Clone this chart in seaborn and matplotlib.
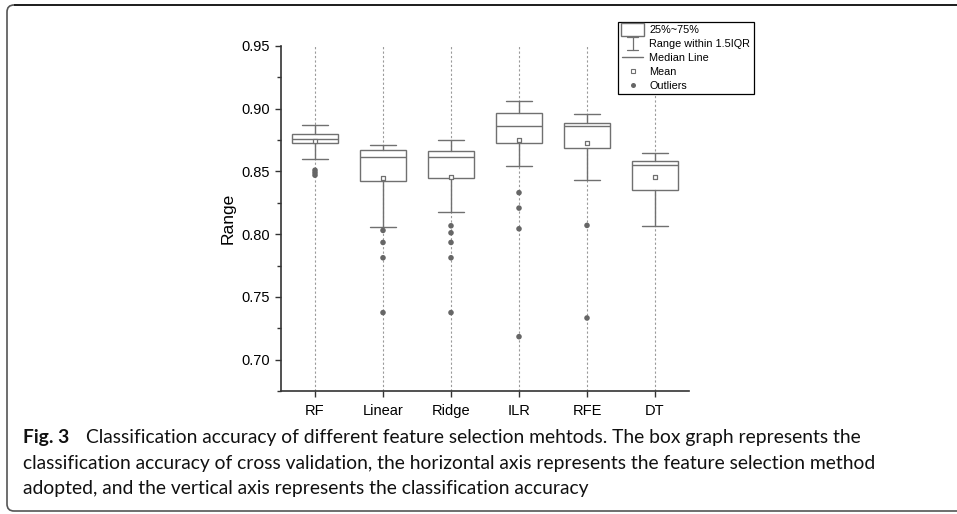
import numpy as np
import pandas as pd
import matplotlib
matplotlib.use("Agg")
import matplotlib.pyplot as plt
import seaborn as sns
from matplotlib.path import Path
from matplotlib.patches import PathPatch, Rectangle
from matplotlib.lines import Line2D
from matplotlib.legend_handler import HandlerBase
from matplotlib.transforms import IdentityTransform
from matplotlib.ticker import MultipleLocator, FormatStrFormatter

# ---------------- data ----------------
categories = ["RF", "Linear", "Ridge", "ILR", "RFE", "DT"]
whisker_high = [0.8869, 0.8714, 0.8751, 0.9058, 0.8959, 0.8651]
q3 = [0.8802, 0.8669, 0.8664, 0.8962, 0.8887, 0.8581]
median = [0.8757, 0.8613, 0.8613, 0.8866, 0.8861, 0.8552]
q1 = [0.8723, 0.8424, 0.8448, 0.8723, 0.8685, 0.8352]
whisker_low = [0.8603, 0.8060, 0.8174, 0.8544, 0.8435, 0.8067]
means = [0.8741, 0.8450, 0.8456, 0.8749, 0.8727, 0.8453]
outliers_rf = [0.851, 0.849, 0.847]
outliers_linear = [0.803, 0.7934, 0.7812, 0.7375]
outliers_ridge = [0.8067, 0.8011, 0.7934, 0.7812, 0.7375]
outliers_ilr = [0.8331, 0.8208, 0.8043, 0.7183]
outliers_rfe = [0.807, 0.7332]
outliers_dt = []
outliers = [outliers_rf, outliers_linear, outliers_ridge,
            outliers_ilr, outliers_rfe, outliers_dt]
legend_labels = ["25%~75%", "Range within 1.5IQR", "Median Line", "Mean", "Outliers"]
ylabel = "Range"
caption_bold = "Fig. 3"
caption_lines = [
    "Classification accuracy of different feature selection mehtods. The box graph represents the",
    "classification accuracy of cross validation, the horizontal axis represents the feature selection method",
    "adopted, and the vertical axis represents the classification accuracy",
]

# ---------------- style ----------------
sns.set_theme(style="ticks")
plt.rcParams['font.family'] = ['Liberation Sans', 'DejaVu Sans']
GRAY = "#707070"
DOT = "#666666"
SPINE = "#333333"

W, H = 957, 514
fig = plt.figure(figsize=(W / 100, H / 100), dpi=100)
fig.patch.set_facecolor("white")
ax = fig.add_axes([281 / W, 1 - 391 / H, (689 - 281) / W, (391 - 46) / H])
ax.set_facecolor("white")

positions = list(range(len(categories)))
stats = [dict(label=c, whislo=wl, q1=a, med=m, q3=b, whishi=wh, fliers=[])
         for c, wl, a, m, b, wh in zip(categories, whisker_low, q1, median, q3, whisker_high)]
ax.bxp(stats, positions=positions, widths=0.68, capwidths=0.37,
       showfliers=False, patch_artist=True, manage_ticks=False,
       boxprops=dict(facecolor="white", edgecolor=GRAY, linewidth=1.0),
       medianprops=dict(color=GRAY, linewidth=1.0),
       whiskerprops=dict(color=GRAY, linewidth=1.0),
       capprops=dict(color=GRAY, linewidth=1.0), zorder=3)

out_df = pd.DataFrame({
    "pos": [p for p, vals in zip(positions, outliers) for _ in vals],
    "value": [v for vals in outliers for v in vals],
})
sns.scatterplot(data=out_df, x="pos", y="value", ax=ax, color=DOT, s=16,
                edgecolor="none", zorder=4, legend=False)
mean_df = pd.DataFrame({"pos": positions, "value": means})
sns.scatterplot(data=mean_df, x="pos", y="value", ax=ax, marker="s", s=12,
                facecolor="white", edgecolor=GRAY, linewidth=0.9, zorder=5,
                legend=False)

ax.set_xlim(-0.5, len(categories) - 0.5)
ax.set_ylim(0.675, 0.95)
ax.set_xticks(positions)
ax.set_xticklabels(categories)
ax.yaxis.set_major_locator(MultipleLocator(0.05))
ax.yaxis.set_minor_locator(MultipleLocator(0.025))
ax.yaxis.set_major_formatter(FormatStrFormatter("%.2f"))
ax.set_xlabel("")
ax.set_ylabel(ylabel, fontsize=12.5, color="black", labelpad=4)
ax.tick_params(axis="both", which="major", direction="out", length=4.5,
               width=1.0, color=SPINE, labelsize=10.5, labelcolor="black")
ax.tick_params(axis="x", pad=5)
ax.tick_params(axis="y", which="minor", direction="out", length=3,
               width=1.0, color=SPINE)
sns.despine(ax=ax)
for s in ("left", "bottom"):
    ax.spines[s].set_color(SPINE)
    ax.spines[s].set_linewidth(1.2)
ax.grid(axis="x", linestyle=(0, (2, 2)), color="#9a9a9a", linewidth=0.8)
ax.grid(axis="y", visible=False)
ax.set_axisbelow(True)


# ---------------- legend ----------------
class DrawHandler(HandlerBase):
    def __init__(self, kind):
        super().__init__()
        self.kind = kind

    def create_artists(self, legend, orig_handle, xdescent, ydescent, width,
                       height, fontsize, trans):
        x0, y0 = -xdescent, -ydescent
        cx, cy = x0 + width / 2, y0 + height / 2
        arts = []
        if self.kind == "box":
            arts.append(Rectangle((x0, cy - 4.5), width, 9, facecolor="white",
                                  edgecolor=GRAY, linewidth=1.0, transform=trans))
        elif self.kind == "whisker":
            hh = 5
            arts.append(Line2D([cx, cx], [cy - hh, cy + hh], color=GRAY, lw=0.9, transform=trans))
            arts.append(Line2D([cx - 4, cx + 4], [cy + hh, cy + hh], color=GRAY, lw=0.9, transform=trans))
            arts.append(Line2D([cx - 4, cx + 4], [cy - hh, cy - hh], color=GRAY, lw=0.9, transform=trans))
        elif self.kind == "median":
            arts.append(Line2D([cx - 7.5, cx + 7.5], [cy, cy], color=GRAY, lw=1.0, transform=trans))
        elif self.kind == "mean":
            arts.append(Line2D([cx], [cy], marker="s", markersize=3.3, markerfacecolor="white",
                               markeredgecolor=GRAY, markeredgewidth=0.8, linestyle="none",
                               transform=trans))
        elif self.kind == "outlier":
            arts.append(Line2D([cx], [cy], marker="o", markersize=3.6, markerfacecolor=DOT,
                               markeredgecolor="none", linestyle="none", transform=trans))
        return arts


kinds = ["box", "whisker", "median", "mean", "outlier"]
handles = [Line2D([], []) for _ in kinds]
hmap = {h: DrawHandler(k) for h, k in zip(handles, kinds)}
leg = fig.legend(handles, legend_labels, handler_map=hmap, loc="upper left",
                 bbox_to_anchor=(618 / W, 1 - 22 / H), bbox_transform=fig.transFigure,
                 fontsize=7.8, frameon=True, fancybox=False, framealpha=1,
                 edgecolor="black", borderpad=0.3, labelspacing=0.33,
                 handlelength=2.1, handleheight=0.9, handletextpad=0.5,
                 borderaxespad=0)
leg.get_frame().set_linewidth(0.9)
for t in leg.get_texts():
    t.set_color("black")

# ---------------- caption ----------------
cap_font = ["Lato", "DejaVu Sans"]
renderer = fig.canvas.get_renderer()
probe = fig.text(0, 0, caption_lines[1], fontsize=12, family=cap_font)
wpx = probe.get_window_extent(renderer=renderer).width
probe.remove()
cap_size = 12 * (876 - 23) / wpx

fig.text(23 / W, 1 - 443 / H, caption_bold, fontsize=cap_size, family=cap_font,
         fontweight="bold", va="baseline", ha="left", color="#111111")
fig.text(86 / W, 1 - 443 / H, caption_lines[0], fontsize=cap_size, family=cap_font,
         va="baseline", ha="left", color="#111111")
fig.text(23 / W, 1 - 468.5 / H, caption_lines[1], fontsize=cap_size, family=cap_font,
         va="baseline", ha="left", color="#111111")
fig.text(23 / W, 1 - 494 / H, caption_lines[2], fontsize=cap_size, family=cap_font,
         va="baseline", ha="left", color="#111111")

# ---------------- frame (rounded left corners, open right side) ----------------
r = 7
top_y, bot_y, left_x = H - 5, H - 511, 7
frame_path = Path([(W + 5, top_y), (left_x + r, top_y), (left_x, top_y), (left_x, top_y - r),
                   (left_x, bot_y + r), (left_x, bot_y), (left_x + r, bot_y), (W + 5, bot_y)],
                  [Path.MOVETO, Path.LINETO, Path.CURVE3, Path.CURVE3,
                   Path.LINETO, Path.CURVE3, Path.CURVE3, Path.LINETO])
fig.patches.append(PathPatch(frame_path, facecolor="none", edgecolor="#555555",
                             linewidth=1.2, transform=IdentityTransform(), figure=fig))
top_line = Path([(W + 5, top_y), (left_x + r, top_y)], [Path.MOVETO, Path.LINETO])
fig.patches.append(PathPatch(top_line, facecolor="none", edgecolor="#111111",
                             linewidth=1.2, transform=IdentityTransform(), figure=fig))

fig.savefig("out.png", dpi=100, facecolor="white")
